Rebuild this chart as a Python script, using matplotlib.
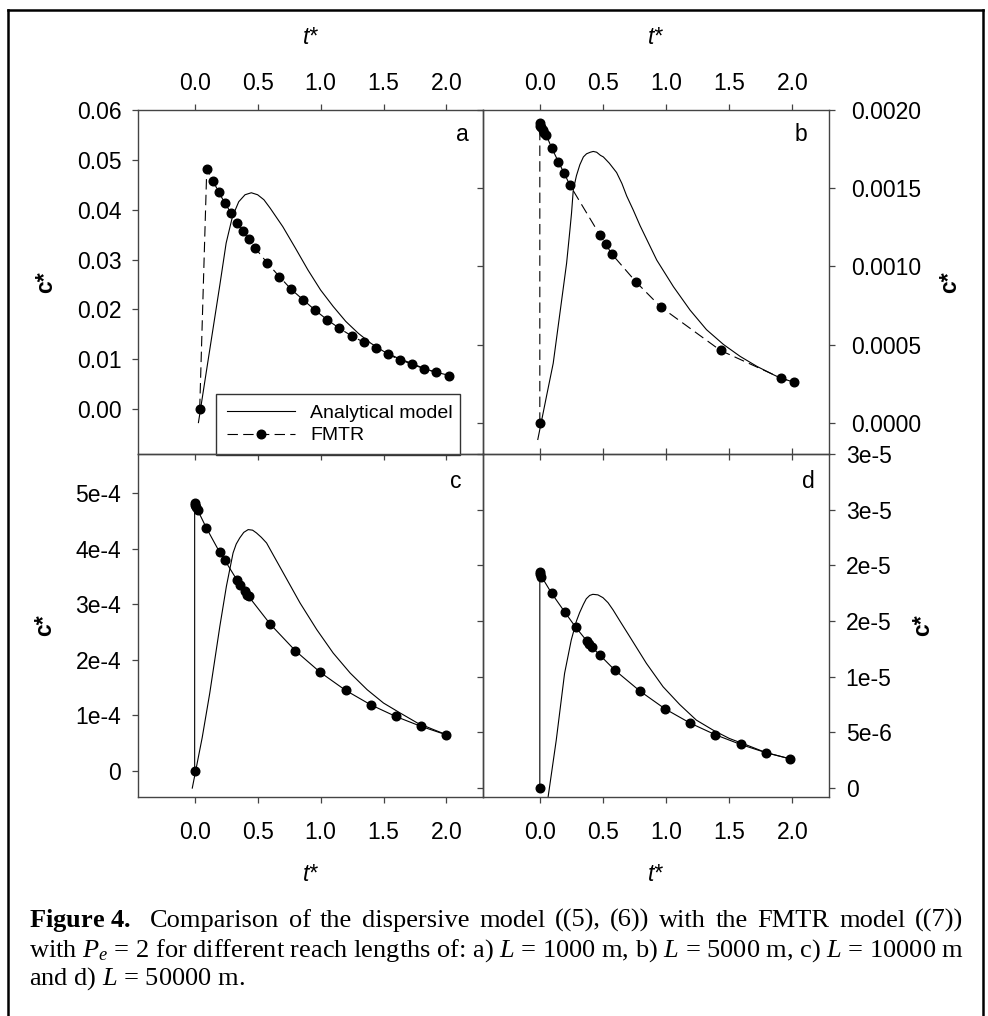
import matplotlib
matplotlib.use('Agg')
import matplotlib.pyplot as plt
from matplotlib.lines import Line2D

plt.rcParams['font.family'] = ['Liberation Sans', 'DejaVu Sans']
plt.rcParams['mathtext.fontset'] = 'custom'
plt.rcParams['mathtext.rm'] = 'Liberation Serif'
plt.rcParams['mathtext.it'] = 'Liberation Serif:italic'
plt.rcParams['mathtext.bf'] = 'Liberation Serif:bold'
plt.rcParams['lines.scale_dashes'] = False

# ── Panel a : L = 1000 m ──
a_t_ana = [0.03, 0.1, 0.2, 0.25, 0.3, 0.35, 0.4, 0.45, 0.5, 0.55, 0.6, 0.7, 0.8, 0.9,
           1.0, 1.1, 1.2, 1.3, 1.4, 1.5, 1.6, 1.7, 1.8, 1.9, 2.0]
a_c_ana = [-0.0027, 0.0087, 0.0249, 0.0333, 0.0386, 0.0416, 0.0430, 0.0434, 0.0430, 0.0420,
           0.0403, 0.0366, 0.0323, 0.0279, 0.0239, 0.0206, 0.0176, 0.0152, 0.0132, 0.0116,
           0.0104, 0.0094, 0.0084, 0.0075, 0.0069]
a_t_fm = [0.04, 0.096, 0.146, 0.191, 0.239, 0.287, 0.335, 0.382, 0.43, 0.478, 0.574, 0.672,
          0.768, 0.863, 0.959, 1.054, 1.15, 1.246, 1.344, 1.44, 1.535, 1.631, 1.726, 1.822,
          1.918, 2.019]
a_c_fm = [0.0, 0.0481, 0.0458, 0.0435, 0.0414, 0.0394, 0.0374, 0.0357, 0.0341, 0.0324,
          0.0294, 0.0266, 0.0240, 0.0219, 0.0198, 0.0179, 0.0162, 0.0147, 0.0134, 0.0122,
          0.0110, 0.0099, 0.0090, 0.0081, 0.0074, 0.0067]

# ── Panel b : L = 5000 m ──
b_t_ana = [-0.016, 0.053, 0.106, 0.159, 0.212, 0.238, 0.251, 0.265, 0.29, 0.317, 0.345,
           0.37, 0.40, 0.423, 0.45, 0.48, 0.503, 0.55, 0.608, 0.65, 0.688, 0.74, 0.794,
           0.86, 0.926, 1.058, 1.19, 1.32, 1.455, 1.587, 1.72, 1.85, 1.905, 2.01]
b_c_ana = [-0.000107, 0.00017, 0.00038, 0.0007, 0.00102, 0.00123, 0.00134, 0.00149, 0.00158,
           0.00165, 0.00170, 0.00172, 0.00173, 0.001735, 0.00173, 0.00171, 0.0017, 0.00166,
           0.0016, 0.00153, 0.00145, 0.00136, 0.00126, 0.00115, 0.00104, 0.00087, 0.00072,
           0.000595, 0.0005, 0.000424, 0.00036, 0.000307, 0.000286, 0.00026]
b_t_fm = [0.0, 0.0, 0.005, 0.013, 0.024, 0.037, 0.05, 0.093, 0.146, 0.19, 0.238, 0.476,
          0.524, 0.569, 0.762, 0.958, 1.431, 1.91, 2.01]
b_c_fm = [0.0, 0.00192, 0.0019, 0.00189, 0.00187, 0.00185, 0.00184, 0.00176, 0.00167,
          0.0016, 0.00152, 0.0012, 0.00114, 0.00108, 0.0009, 0.00074, 0.000462, 0.000286,
          0.00026]

# ── Panel c : L = 10000 m ──
c_t_ana = [-0.019, 0.06, 0.12, 0.2, 0.252, 0.305, 0.33, 0.358, 0.39, 0.425, 0.46, 0.491,
           0.53, 0.571, 0.63, 0.704, 0.837, 0.97, 1.1, 1.235, 1.37, 1.5, 1.633, 1.77, 1.9, 2.0]
c_c_ana = [-0.31e-4, 0.6e-4, 1.4e-4, 2.6e-4, 3.32e-4, 3.92e-4, 4.08e-4, 4.19e-4, 4.29e-4,
           4.34e-4, 4.33e-4, 4.28e-4, 4.2e-4, 4.1e-4, 3.86e-4, 3.56e-4, 3.02e-4, 2.54e-4,
           2.12e-4, 1.76e-4, 1.46e-4, 1.22e-4, 1.04e-4, 0.86e-4, 0.74e-4, 0.65e-4]
c_t_fm = [0.0, 0.0, 0.005, 0.013, 0.024, 0.093, 0.199, 0.239, 0.337, 0.364, 0.398, 0.417,
          0.428, 0.6, 0.8, 0.999, 1.198, 1.397, 1.596, 1.798, 1.997]
c_c_fm = [0.0, 4.82e-4, 4.79e-4, 4.74e-4, 4.69e-4, 4.37e-4, 3.93e-4, 3.79e-4, 3.43e-4,
          3.35e-4, 3.23e-4, 3.17e-4, 3.14e-4, 2.64e-4, 2.16e-4, 1.77e-4, 1.45e-4, 1.19e-4,
          0.98e-4, 0.80e-4, 0.65e-4]

# ── Panel d : L = 50000 m ──
d_t_ana = [0.063, 0.13, 0.196, 0.249, 0.29, 0.315, 0.345, 0.368, 0.395, 0.42, 0.46, 0.5,
           0.54, 0.58, 0.64, 0.712, 0.844, 0.976, 1.108, 1.24, 1.373, 1.5, 1.64, 1.79, 1.984]
d_c_ana = [-0.1e-5, 0.43e-5, 1.03e-5, 1.33e-5, 1.5e-5, 1.575e-5, 1.65e-5, 1.7e-5, 1.73e-5,
           1.74e-5, 1.735e-5, 1.71e-5, 1.665e-5, 1.6e-5, 1.49e-5, 1.36e-5, 1.12e-5, 0.91e-5,
           0.75e-5, 0.61e-5, 0.52e-5, 0.446e-5, 0.386e-5, 0.319e-5, 0.262e-5]
d_t_fm = [0.0, 0.0, 0.005, 0.013, 0.093, 0.198, 0.283, 0.373, 0.389, 0.41, 0.474, 0.593,
          0.794, 0.992, 1.19, 1.39, 1.59, 1.788, 1.984]
d_c_fm = [0.0, 1.937e-5, 1.92e-5, 1.90e-5, 1.75e-5, 1.58e-5, 1.446e-5, 1.32e-5, 1.295e-5,
          1.268e-5, 1.196e-5, 1.06e-5, 0.87e-5, 0.711e-5, 0.584e-5, 0.479e-5, 0.392e-5,
          0.319e-5, 0.262e-5]

t_ticks = [0.0, 0.5, 1.0, 1.5, 2.0]
t_labels = ['0.0', '0.5', '1.0', '1.5', '2.0']
a_yticks = [0.0, 0.01, 0.02, 0.03, 0.04, 0.05, 0.06]
a_ylabels = ['0.00', '0.01', '0.02', '0.03', '0.04', '0.05', '0.06']
b_yticks = [0.0, 0.0005, 0.001, 0.0015, 0.002]
b_ylabels = ['0.0000', '0.0005', '0.0010', '0.0015', '0.0020']
c_yticks = [0.0, 1e-4, 2e-4, 3e-4, 4e-4, 5e-4]
c_ylabels = ['0', '1e-4', '2e-4', '3e-4', '4e-4', '5e-4']
d_yticks = [0.0, 5e-6, 1e-5, 1.5e-5, 2e-5, 2.5e-5, 3e-5]
d_ylabels = ['0', '5e-6', '1e-5', '2e-5', '2e-5', '3e-5', '3e-5']

W, H = 988, 1016
fig = plt.figure(figsize=(W / 100, H / 100), dpi=100)


def box(x0, y0, x1, y1):
    return [x0 / W, 1 - y1 / H, (x1 - x0) / W, (y1 - y0) / H]


ax_a = fig.add_axes(box(138, 110, 483, 454))
ax_b = fig.add_axes(box(483, 110, 829, 454))
ax_c = fig.add_axes(box(138, 454, 483, 797))
ax_d = fig.add_axes(box(483, 454, 829, 797))

spine_col = '#444444'
FS = 16.5
LFS = 16.5
dash = (0, (7.5, 3.8))

for ax in (ax_a, ax_b, ax_c, ax_d):
    ax.set_xlim(-0.45, 2.29)
    ax.set_facecolor('none')
    for s in ax.spines.values():
        s.set_color(spine_col)
        s.set_linewidth(1.0)
    ax.set_xticks(t_ticks)
    ax.tick_params(length=4, width=0.9, color=spine_col, labelsize=FS)

# Panel a
ax_a.plot(a_t_ana, a_c_ana, color='black', lw=0.8, label='Analytical model')
ax_a.plot(a_t_fm, a_c_fm, color='black', lw=0.8, ls=dash, marker='o', ms=6.2, label='FMTR')
ax_a.set_ylim(-0.009, 0.06)
ax_a.set_yticks(a_yticks, a_ylabels)
ax_a.set_xticks(t_ticks, t_labels)
ax_a.tick_params(axis='x', top=True, bottom=True, labeltop=True, labelbottom=False,
                 direction='out', pad=7)
ax_a.tick_params(axis='y', left=True, right=False, pad=8)
ax_a.set_xlabel('t*', style='italic', fontsize=LFS, labelpad=20)
ax_a.xaxis.set_label_position('top')
ax_a.set_ylabel('c*', fontsize=LFS, fontweight='bold', labelpad=14)
ax_a.text(0.94, 0.93, 'a', transform=ax_a.transAxes, fontsize=FS, ha='center', va='center')

# Panel b
ax_b.plot(b_t_ana, b_c_ana, color='black', lw=0.8)
ax_b.plot(b_t_fm, b_c_fm, color='black', lw=0.8, ls=dash, marker='o', ms=6.2)
ax_b.set_ylim(-0.0002, 0.002)
ax_b.set_yticks(b_yticks, b_ylabels)
ax_b.set_xticks(t_ticks, t_labels)
ax_b.tick_params(axis='x', top=True, bottom=True, labeltop=True, labelbottom=False,
                 direction='out', pad=7)
ax_b.tick_params(axis='y', left=True, right=True, labelleft=False, labelright=True, pad=12)
ax_b.set_xlabel('t*', style='italic', fontsize=LFS, labelpad=20)
ax_b.xaxis.set_label_position('top')
ax_b.yaxis.set_label_position('right')
ax_b.set_ylabel('c*', fontsize=LFS, fontweight='bold', labelpad=12, rotation=90)
ax_b.text(0.92, 0.93, 'b', transform=ax_b.transAxes, fontsize=FS, ha='center', va='center')

# Panel c
ax_c.plot(c_t_ana, c_c_ana, color='black', lw=0.8)
ax_c.plot(c_t_fm, c_c_fm, color='black', lw=0.8, marker='o', ms=6.2)
ax_c.set_ylim(-4.7e-5, 5.7e-4)
ax_c.set_yticks(c_yticks, c_ylabels)
ax_c.set_xticks(t_ticks, t_labels)
ax_c.tick_params(axis='x', top=False, bottom=True, labelbottom=True, pad=13)
ax_c.tick_params(axis='y', left=True, right=False, pad=8)
ax_c.set_xlabel('t*', style='italic', fontsize=LFS, labelpad=14)
ax_c.set_ylabel('c*', fontsize=LFS, fontweight='bold', labelpad=14)
ax_c.text(0.92, 0.92, 'c', transform=ax_c.transAxes, fontsize=FS, ha='center', va='center')

# Panel d
ax_d.plot(d_t_ana, d_c_ana, color='black', lw=0.8)
ax_d.plot(d_t_fm, d_c_fm, color='black', lw=0.8, marker='o', ms=6.2)
ax_d.set_ylim(-8e-7, 3e-5)
ax_d.set_yticks(d_yticks, d_ylabels)
ax_d.set_xticks(t_ticks, t_labels)
ax_d.tick_params(axis='x', top=True, bottom=True, labeltop=False, labelbottom=True, pad=13)
ax_d.tick_params(axis='y', left=True, right=True, labelleft=False, labelright=True, pad=8)
ax_d.set_xlabel('t*', style='italic', fontsize=LFS, labelpad=14)
ax_d.yaxis.set_label_position('right')
ax_d.set_ylabel('c*', fontsize=LFS, fontweight='bold', labelpad=14, rotation=90)
ax_d.text(0.94, 0.92, 'd', transform=ax_d.transAxes, fontsize=FS, ha='center', va='center')

# Legend in panel a
leg = ax_a.legend(loc='lower left', bbox_to_anchor=(0.226, -0.003, 0.707, 0.19),
                  mode='expand', borderaxespad=0, numpoints=1, fontsize=14,
                  handlelength=3.5, handletextpad=0.8, labelspacing=0.25,
                  borderpad=0.55, fancybox=False, framealpha=1, edgecolor='#333333')
leg.get_frame().set_linewidth(1.0)
leg.set_zorder(10)

# Outer frame
for xs, ys in [([8, 8], [1016, 10]), ([8, 983], [10, 10]), ([983, 983], [10, 1016])]:
    fig.add_artist(Line2D([x / W for x in xs], [1 - y / H for y in ys],
                          transform=fig.transFigure, color='black', lw=1.8))

# Caption (first line justified word by word, like the printed figure)
cap_fs = 19
cap_x0, cap_x1 = 29, 963
line1_words = [r"$\mathbf{Figure\ 4.}$", "Comparison", "of", "the", "dispersive", "model",
               "((5),", "(6))", "with", "the", "FMTR", "model", "((7))"]
line2 = r"with $P_e$ = 2 for different reach lengths of: a) $L$ = 1000 m, b) $L$ = 5000 m, c) $L$ = 10000 m"
line3 = r"and d) $L$ = 50000 m."

renderer = fig.canvas.get_renderer()
word_texts = [fig.text(0, 1 - 927 / H, w, fontsize=cap_fs, family='Liberation Serif',
                       va='baseline') for w in line1_words]
widths = [t.get_window_extent(renderer).width for t in word_texts]
gap = (cap_x1 - cap_x0 - sum(widths)) / (len(widths) - 1 + 1.0)
x = cap_x0
for i, (t, w) in enumerate(zip(word_texts, widths)):
    t.set_x(x / W)
    x += w + gap * (2.0 if i == 0 else 1.0)

for yb, line in zip([957, 985], [line2, line3]):
    fig.text(cap_x0 / W, 1 - yb / H, line, fontsize=cap_fs, family='Liberation Serif',
             va='baseline')

fig.savefig('out.png', dpi=100)
